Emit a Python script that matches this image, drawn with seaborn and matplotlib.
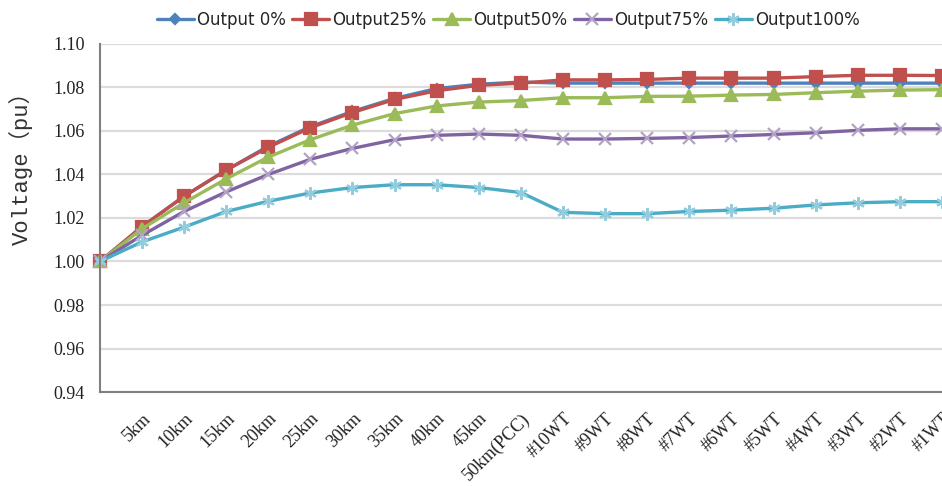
import numpy as np
import pandas as pd
import matplotlib
matplotlib.use("Agg")
import matplotlib.pyplot as plt
import seaborn as sns

# category labels along the feeder (first point is the unlabeled start)
categories = ["", "5km", "10km", "15km", "20km", "25km", "30km", "35km", "40km", "45km",
              "50km(PCC)", "#10WT", "#9WT", "#8WT", "#7WT", "#6WT", "#5WT", "#4WT",
              "#3WT", "#2WT", "#1WT"]

out_0 = [1.000, 1.016, 1.030, 1.042, 1.053, 1.062, 1.069, 1.075, 1.0795, 1.0815, 1.0825,
         1.082, 1.082, 1.082, 1.082, 1.082, 1.082, 1.082, 1.082, 1.082, 1.082]
out_25 = [1.000, 1.016, 1.030, 1.042, 1.0525, 1.0615, 1.0685, 1.0745, 1.0785, 1.081, 1.082,
          1.0835, 1.0835, 1.0837, 1.0843, 1.0843, 1.0843, 1.085, 1.0856, 1.0856, 1.0855]
out_50 = [1.000, 1.015, 1.027, 1.038, 1.048, 1.056, 1.0627, 1.068, 1.0715, 1.0733, 1.074,
          1.0753, 1.0753, 1.0759, 1.076, 1.0765, 1.0768, 1.0776, 1.0783, 1.0788, 1.079]
out_75 = [1.000, 1.012, 1.023, 1.032, 1.040, 1.047, 1.052, 1.056, 1.058, 1.0586, 1.058,
          1.0563, 1.0563, 1.0566, 1.057, 1.0577, 1.0584, 1.0592, 1.0603, 1.061, 1.061]
out_100 = [1.000, 1.009, 1.0158, 1.023, 1.0277, 1.0315, 1.034, 1.0353, 1.0353, 1.034, 1.0317,
           1.0226, 1.022, 1.022, 1.023, 1.0236, 1.0245, 1.026, 1.027, 1.0275, 1.0275]

series_names = ["Output 0%", "Output25%", "Output50%", "Output75%", "Output100%"]
series_vals = [out_0, out_25, out_50, out_75, out_100]

colors = ["#4F81BD", "#C0504D", "#9BBB59", "#8064A2", "#4BACC6"]
edge_colors = ["#4F81BD", "#C0504D", "#9BBB59", "#B3A2C7", "#93CDDD"]
markers = ["D", "s", "^", "x", (6, 2, 0)]
msizes = [5, 9, 8, 9, 9]

rows = []
for name, vals in zip(series_names, series_vals):
    for i, v in enumerate(vals):
        rows.append({"pos": i, "series": name, "voltage": v})
df = pd.DataFrame(rows)

sns.set_style("white")
# tick labels are serif in the reference
plt.rcParams["font.family"] = ["Liberation Serif", "DejaVu Serif"]

fig = plt.figure(figsize=(9.42, 4.86), dpi=100)
ax = fig.add_axes([0.106, 0.1934, 0.894, 0.7161])

for name, c, ec, m, ms in zip(series_names, colors, edge_colors, markers, msizes):
    sub = df[df["series"] == name]
    sns.lineplot(data=sub, x="pos", y="voltage", ax=ax, color=c, marker=m,
                 markersize=ms, markeredgecolor=ec, markerfacecolor=c,
                 markeredgewidth=1.6, linewidth=2.4, label=name, clip_on=False)

ax.set_xlim(0, len(categories) - 1)
ax.set_ylim(0.94, 1.10)
ax.set_xlabel("")
ax.set_ylabel("")
ax.yaxis.grid(True, color="#DCDCDC", linewidth=1.6)
ax.xaxis.grid(False)
ax.tick_params(axis="both", direction="out", length=5, width=1.2, color="#808080",
               labelsize=13, labelcolor="#222222")
ax.tick_params(axis="x", pad=8)
ax.tick_params(axis="y", pad=6)

yt = np.arange(0.94, 1.1001, 0.02)
ax.set_yticks(yt)
ax.set_yticklabels([f"{t:.2f}" for t in yt])
ax.set_xticks(range(len(categories)))
ax.set_xticklabels(categories, rotation=45, ha="right", rotation_mode="anchor")

for s in ["top", "right"]:
    ax.spines[s].set_visible(False)
for s in ["left", "bottom"]:
    ax.spines[s].set_color("#808080")
    ax.spines[s].set_linewidth(1.5)

fig.text(0.022, 0.665, "Voltage（pu）", rotation=90, va="center", ha="center",
         family=["Liberation Mono", "Noto Sans CJK SC"], fontsize=16, color="#333333")

handles, labels = ax.get_legend_handles_labels()
ax.legend(handles, labels, loc="center", bbox_to_anchor=(0.485, 1.07), ncol=5,
          frameon=False, handlelength=2.2, handletextpad=0.2, columnspacing=0.4,
          prop={"family": ["Liberation Sans Narrow", "DejaVu Sans"], "size": 12})

fig.savefig("out.png", dpi=100)
